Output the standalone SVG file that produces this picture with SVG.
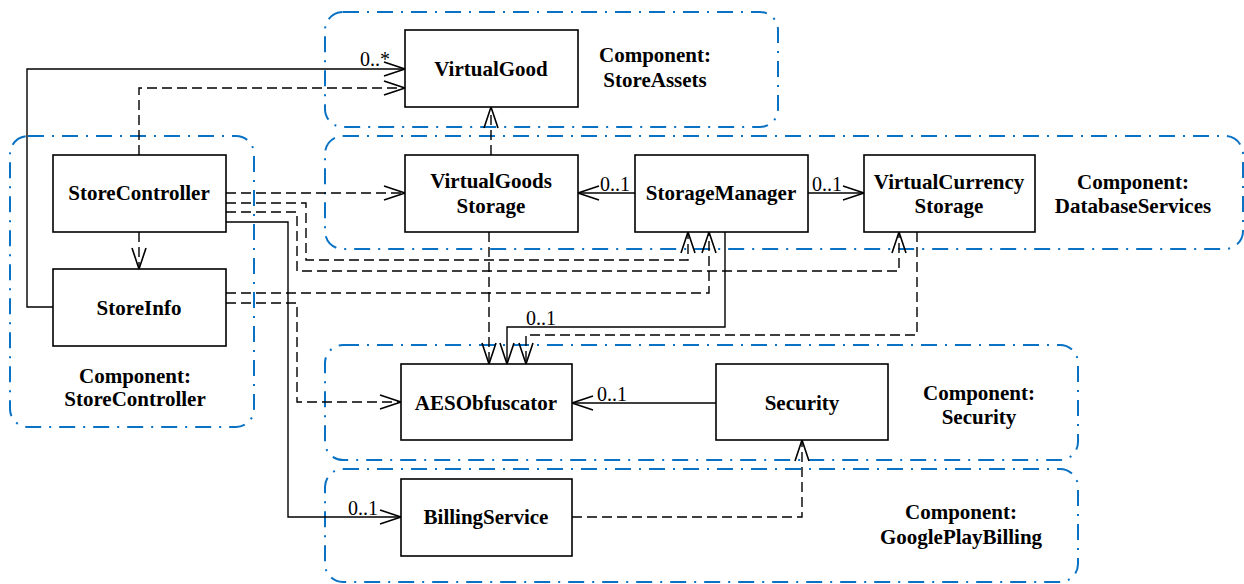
<svg xmlns="http://www.w3.org/2000/svg" width="1244" height="584" viewBox="0 0 1244 584">
  <style>
    .comp { fill: none; stroke: #0A72C4; stroke-width: 2; stroke-dasharray: 16 8 2 8; }
    .box { fill: #ffffff; stroke: #000000; stroke-width: 1.6; }
    .lbl { font-family: "Liberation Serif", "Times New Roman", serif; font-weight: bold; font-size: 21px; fill: #000000; text-anchor: middle; }
    .mult { font-family: "Liberation Serif", "Times New Roman", serif; font-size: 20px; fill: #000000; }
    .assoc { fill: none; stroke: #000000; stroke-width: 1.4; marker-end: url(#open); }
    .dep { fill: none; stroke: #000000; stroke-width: 1.4; stroke-dasharray: 10 5; marker-end: url(#open); }
  </style>
  <defs>
    <marker id="open" markerUnits="userSpaceOnUse" viewBox="-24 -10 26 20" refX="0" refY="0" markerWidth="26" markerHeight="20" orient="auto" overflow="visible">
      <path d="M-21,-7 L0,0 L-21,7" fill="none" stroke="#000000" stroke-width="1.6" stroke-dasharray="none"/>
    </marker>
  </defs>

  <rect width="1244" height="584" fill="#ffffff"/>

  <!-- component boundaries -->
  <g id="components">
    <g id="comp-storeassets">
      <rect class="comp" x="325" y="12" width="453" height="115" rx="18"/>
      <text class="lbl" x="655" y="62">Component:</text>
      <text class="lbl" x="655" y="87">StoreAssets</text>
    </g>
    <g id="comp-databaseservices">
      <rect class="comp" x="325" y="136" width="918" height="113" rx="18"/>
      <text class="lbl" x="1133" y="189">Component:</text>
      <text class="lbl" x="1133" y="213">DatabaseServices</text>
    </g>
    <g id="comp-storecontroller">
      <rect class="comp" x="10" y="136" width="244" height="291" rx="18"/>
      <text class="lbl" x="135" y="383">Component:</text>
      <text class="lbl" x="135" y="406">StoreController</text>
    </g>
    <g id="comp-security">
      <rect class="comp" x="325" y="345" width="753" height="115" rx="18"/>
      <text class="lbl" x="979" y="400">Component:</text>
      <text class="lbl" x="979" y="424">Security</text>
    </g>
    <g id="comp-googleplaybilling">
      <rect class="comp" x="325" y="469" width="753" height="113" rx="18"/>
      <text class="lbl" x="961" y="519">Component:</text>
      <text class="lbl" x="961" y="544">GooglePlayBilling</text>
    </g>
  </g>

  <!-- connectors -->
  <g id="connectors">
    <!-- StoreInfo to VirtualGood -->
    <path class="assoc" d="M53,307 H27 V69 H405"/>
    <text class="mult" x="360" y="66">0..*</text>
    <!-- StoreController to VirtualGood -->
    <path class="dep" d="M139,155 V88 H405"/>
    <!-- StoreController to StoreInfo -->
    <path class="dep" d="M139,232 V269"/>
    <!-- StoreController to VirtualGoodsStorage -->
    <path class="dep" d="M226,193 H405"/>
    <!-- StoreController to StorageManager -->
    <path class="dep" d="M226,203 H306 V260 H688 V232"/>
    <!-- StoreController to VirtualCurrencyStorage -->
    <path class="dep" d="M226,212 H297 V271 H899 V232"/>
    <!-- StoreController to BillingService -->
    <path class="assoc" d="M226,222 H288 V517 H401"/>
    <text class="mult" x="348" y="515">0..1</text>
    <!-- StoreInfo to StorageManager -->
    <path class="dep" d="M226,293 H709 V232"/>
    <!-- StoreInfo to AESObfuscator -->
    <path class="dep" d="M226,303 H297 V402 H401"/>
    <!-- VirtualGoodsStorage to VirtualGood -->
    <path class="dep" d="M491,155 V107"/>
    <!-- VirtualGoodsStorage to AESObfuscator -->
    <path class="dep" d="M489,232 V364"/>
    <!-- StorageManager to VirtualGoodsStorage -->
    <path class="assoc" d="M635,193 H578"/>
    <text class="mult" x="600" y="191">0..1</text>
    <!-- StorageManager to VirtualCurrencyStorage -->
    <path class="assoc" d="M808,193 H864"/>
    <text class="mult" x="812" y="191">0..1</text>
    <!-- StorageManager to AESObfuscator -->
    <path class="assoc" d="M725,232 V327 H507 V364"/>
    <text class="mult" x="526" y="325">0..1</text>
    <!-- VirtualCurrencyStorage to AESObfuscator -->
    <path class="dep" d="M917,232 V335 H526 V364"/>
    <!-- Security to AESObfuscator -->
    <path class="assoc" d="M716,403 H572"/>
    <text class="mult" x="597" y="401">0..1</text>
    <!-- BillingService to Security -->
    <path class="dep" d="M572,517 H802 V440"/>
  </g>

  <!-- classes -->
  <g id="VirtualGood">
    <rect class="box" x="405" y="30" width="173" height="77"/>
    <text class="lbl" x="491" y="76">VirtualGood</text>
  </g>
  <g id="StoreController">
    <rect class="box" x="53" y="155" width="173" height="77"/>
    <text class="lbl" x="139" y="200">StoreController</text>
  </g>
  <g id="StoreInfo">
    <rect class="box" x="53" y="269" width="173" height="77"/>
    <text class="lbl" x="139" y="315">StoreInfo</text>
  </g>
  <g id="VirtualGoodsStorage">
    <rect class="box" x="405" y="155" width="173" height="77"/>
    <text class="lbl" x="491" y="188">VirtualGoods</text>
    <text class="lbl" x="491" y="213">Storage</text>
  </g>
  <g id="StorageManager">
    <rect class="box" x="635" y="155" width="173" height="77"/>
    <text class="lbl" x="721" y="200">StorageManager</text>
  </g>
  <g id="VirtualCurrencyStorage">
    <rect class="box" x="864" y="155" width="171" height="77"/>
    <text class="lbl" x="949" y="189">VirtualCurrency</text>
    <text class="lbl" x="949" y="213">Storage</text>
  </g>
  <g id="AESObfuscator">
    <rect class="box" x="401" y="364" width="171" height="76"/>
    <text class="lbl" x="486" y="410">AESObfuscator</text>
  </g>
  <g id="Security">
    <rect class="box" x="716" y="364" width="172" height="76"/>
    <text class="lbl" x="802" y="410">Security</text>
  </g>
  <g id="BillingService">
    <rect class="box" x="401" y="479" width="171" height="77"/>
    <text class="lbl" x="486" y="524">BillingService</text>
  </g>
</svg>
